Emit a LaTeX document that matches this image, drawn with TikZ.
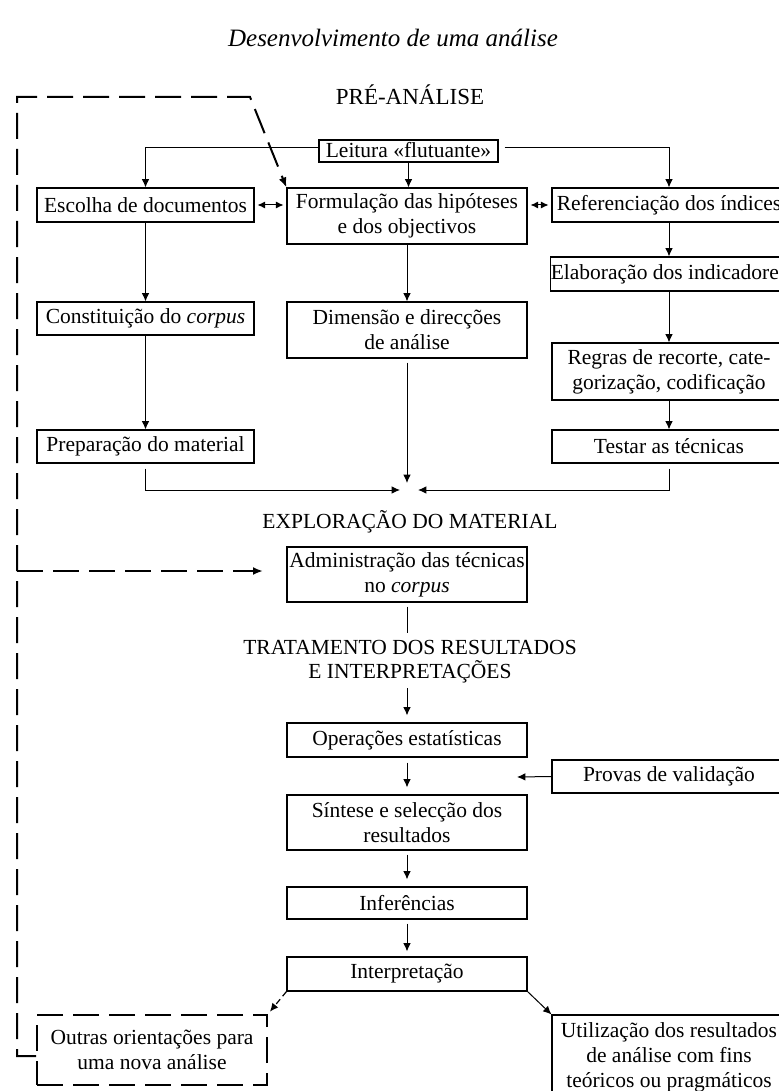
\documentclass[tikz,border=0pt]{standalone}
\usepackage{fontspec}
\setmainfont{Liberation Serif}
\usetikzlibrary{arrows.meta,calc}
\begin{document}
\begin{tikzpicture}[x=0.5pt,y=-0.5pt,
 every node/.style={font=\fontsize{10.75}{12.5}\selectfont},
 box/.style={draw,line width=0.55pt,align=center,inner sep=0pt},
 lcol/.style={box,minimum width=108.5pt},
 ccol/.style={box,minimum width=120pt},
 rcol/.style={box,minimum width=117pt},
 conn/.style={line width=0.5pt},
 arr/.style={conn,-{Latex[length=4.2pt,width=3.8pt]}},
 dbl/.style={conn,{Latex[length=3.8pt,width=3.6pt]}-{Latex[length=3.8pt,width=3.6pt]},shorten <=1.5pt,shorten >=1.5pt},
 loopline/.style={line width=1pt,dash pattern=on 13pt off 5pt},
 heading/.style={align=center,font=\fontsize{10.75}{12}\selectfont}
]
\useasboundingbox (0,0) rectangle (779,1091);
\clip (0,0) rectangle (779,1091);

\node[font=\fontsize{12.5}{14}\selectfont\itshape] (title) at (393,38) {Desenvolvimento de uma análise};
\node[heading,font=\fontsize{11.5}{13}\selectfont] (pre) at (410,95) {PRÉ-ANÁLISE};
\node[draw,line width=0.55pt,inner xsep=0pt,inner ysep=0pt,text height=7.2pt,text depth=0.2pt,minimum width=89.5pt,minimum height=11pt] (leit) at (408.5,151) {Leitura «flutuante»};

\node[lcol,minimum height=17pt] (esc) at (145.5,205) {Escolha de documentos};
\node[ccol,minimum height=28pt] (form) at (407,216) {Formulação das hipóteses\\e dos objectivos};
\node[rcol,minimum height=17pt] (ref) at (669,205) {Referenciação dos índices};
\node[rcol,minimum height=17pt] (elab) at (669,274) {Elaboração dos indicadores};
\node[lcol,minimum height=16.5pt] (cons) at (145.5,318.5) {Constituição do \textit{corpus}};
\node[ccol,minimum height=28pt] (dim) at (407,330) {Dimensão e direcções\\de análise};
\node[rcol,minimum height=28.5pt] (regr) at (669,371.5) {Regras de recorte, cate-\\gorização, codificação};
\node[lcol,minimum height=16.5pt] (prep) at (145.5,446.5) {Preparação do material};
\node[rcol,minimum height=16.5pt] (test) at (669,446.5) {Testar as técnicas};
\node[heading] (expl) at (410,522) {EXPLORAÇÃO DO MATERIAL};
\node[ccol,minimum height=27.5pt] (adm) at (407,574.5) {Administração das técnicas\\no \textit{corpus}};
\node[heading] (trat) at (410,662) {TRATAMENTO DOS RESULTADOS\\E INTERPRETAÇÕES};
\node[ccol,minimum height=17pt] (oper) at (407,740) {Operações estatísticas};
\node[rcol,minimum height=16.5pt] (prov) at (669,776.5) {Provas de validação};
\node[ccol,minimum height=27.5pt] (sint) at (407,822.5) {Síntese e selecção dos\\resultados};
\node[ccol,minimum height=16pt] (inf) at (407,903) {Inferências};
\node[ccol,minimum height=17pt] (interp) at (407,974) {Interpretação};
\node[box,loopline,minimum width=115pt,minimum height=35pt] (outr) at (152,1050) {Outras orientações para\\uma nova análise};
\node[rcol,minimum height=42.5pt] (util) at (669,1057.5) {Utilização dos resultados\\de análise com fins\\teóricos ou pragmáticos};

% pre-analysis connectors
\draw[arr] ([yshift=1.5pt]leit.west) -| (esc.north);
\draw[arr] ([xshift=3pt,yshift=1.5pt]leit.east) -| (ref.north);
\draw[arr] (leit.south) -- (leit.south |- form.north);
\draw[dbl] (esc.east) -- (esc.east -| form.west);
\draw[dbl] (form.east |- ref.west) -- (ref.west);
\draw[arr] (ref.south) -- (elab.north);
\draw[arr] (esc.south) -- (cons.north);
\draw[arr] (form.south) -- (dim.north);
\draw[arr] (elab.south) -- (regr.north);
\draw[arr] (cons.south) -- (prep.north);
\draw[arr] (regr.south) -- (test.north);

\coordinate (mL) at (400,490);
\coordinate (mR) at (418,490);
\coordinate (mC) at (408,483);
\draw[arr,shorten <=2.5pt] (prep.south) |- (mL);
\draw[arr,shorten <=2.5pt] (test.south) |- (mR);
\draw[arr,shorten <=2pt] (dim.south) -- (dim.south |- mC);

% exploration / treatment
\coordinate (aEnd) at (408,633);
\draw[conn,shorten <=2pt] (adm.south) -- (adm.south |- aEnd);
\coordinate (tS) at (408,688);
\draw[arr,shorten >=3.5pt] (tS -| oper.north) -- (oper.north);
\draw[arr,shorten <=2.5pt,shorten >=3.5pt] (oper.south) -- (sint.north);
\draw[arr,shorten <=2pt,shorten >=3.5pt] (sint.south) -- (inf.north);
\draw[arr,shorten <=2pt,shorten >=2.5pt] (inf.south) -- (interp.north);
\coordinate (pv) at (517,777);
\draw[arr] (prov.west) -- (pv);
\draw[line width=0.6pt,dash pattern=on 3pt off 2pt,-{Latex[length=4.2pt,width=3.8pt]},shorten >=1.5pt] (interp.south west) -- (outr.north east);
\draw[arr] (interp.south east) -- (util.north west);

% feedback loop
\coordinate (lb) at (17,1056);
\coordinate (lt) at (17,97);
\coordinate (lk) at (250,97);
\draw[loopline,-{Latex[length=5pt,width=4pt]}] (outr.west |- lb) -- (lb) -- (lt) -- (lk) -- (form.north west);
\coordinate (lj) at (17,571);
\coordinate (ae) at (263,571);
\draw[loopline,-{Latex[length=5pt,width=4pt]}] (lj) -- (ae);
\end{tikzpicture}
\end{document}
